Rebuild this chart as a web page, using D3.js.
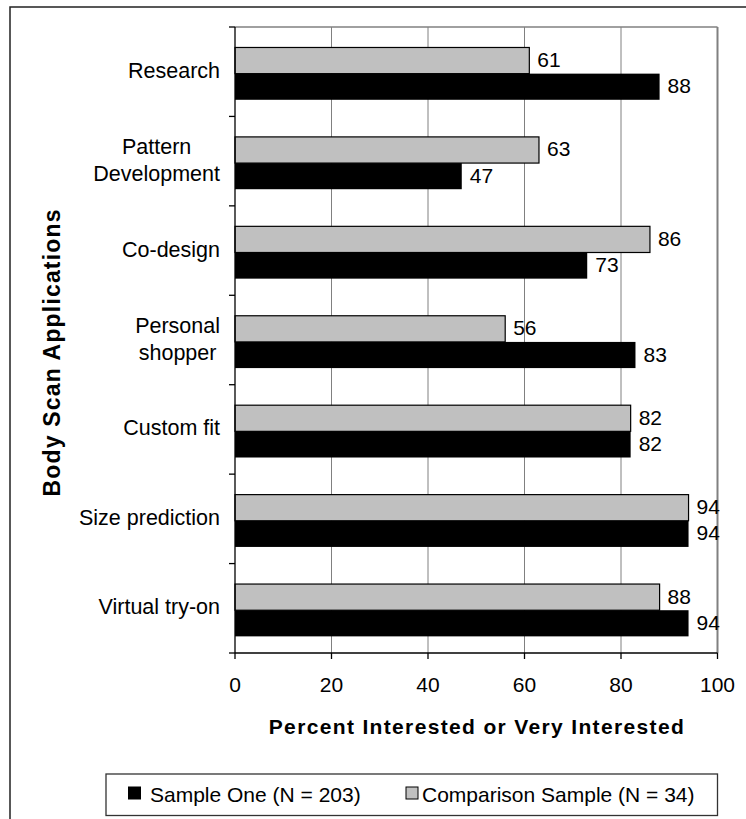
<!DOCTYPE html>
<html><head><meta charset="utf-8">
<script src="https://cdn.jsdelivr.net/npm/d3@7"></script>
<style>
html,body{margin:0;padding:0;background:#fff;}
svg{display:block;font-family:"Liberation Sans",Arial,sans-serif;}
</style></head>
<body>
<svg id="chart" width="746" height="819"></svg>
<script>
const categories = [["Research"],["Pattern","Development"],["Co-design"],["Personal","shopper"],["Custom fit"],["Size prediction"],["Virtual try-on"]];
const comparisonValues = [61,63,86,56,82,94,88];
const sampleOneValues  = [88,47,73,83,82,94,94];
const xTicks = [0,20,40,60,80,100];
const seriesNames = ["Sample One (N = 203)","Comparison Sample (N = 34)"];

const svg = d3.select("#chart");
const L=235, R=717.5, T=27, B=653;
const x = d3.scaleLinear().domain([0,100]).range([L,R]);
const y = d3.scaleBand().domain(d3.range(categories.length)).range([T,B]);
const bw = y.bandwidth();
const sub = d3.scaleBand().domain(["comp","one"]).range([bw*0.229, bw*0.814]);

// outer frame
svg.append("rect").attr("x",10).attr("y",7).attr("width",900).attr("height",900)
  .attr("fill","none").attr("stroke","#222").attr("stroke-width",1.5);

// gridlines
svg.append("g").selectAll("line").data(xTicks.filter(d=>d>0&&d<100)).join("line")
  .attr("x1",d=>x(d)).attr("x2",d=>x(d)).attr("y1",T).attr("y2",B)
  .attr("stroke","#808080").attr("stroke-width",1);
// plot border top/right
svg.append("line").attr("x1",L).attr("x2",R).attr("y1",T).attr("y2",T).attr("stroke","#808080").attr("stroke-width",1.5);
svg.append("line").attr("x1",R).attr("x2",R).attr("y1",T).attr("y2",B).attr("stroke","#808080").attr("stroke-width",2);

// bars
const rows = categories.map((c,i)=>({i, comp:comparisonValues[i], one:sampleOneValues[i]}));
const g = svg.append("g");
g.selectAll("rect.comp").data(rows).join("rect").attr("class","comp")
  .attr("x",x(0)).attr("y",d=>y(d.i)+sub("comp")).attr("width",d=>x(d.comp)-x(0)).attr("height",sub.bandwidth())
  .attr("fill","#c0c0c0").attr("stroke","#000").attr("stroke-width",1.2);
g.selectAll("rect.one").data(rows).join("rect").attr("class","one")
  .attr("x",x(0)).attr("y",d=>y(d.i)+sub("one")).attr("width",d=>x(d.one)-x(0)).attr("height",sub.bandwidth())
  .attr("fill","#000");

// value labels
g.selectAll("text.vc").data(rows).join("text")
  .attr("x",d=>x(d.comp)+8).attr("y",d=>y(d.i)+sub("comp")+sub.bandwidth()/2+6.5)
  .attr("font-size",21).text(d=>d.comp);
g.selectAll("text.vo").data(rows).join("text")
  .attr("x",d=>x(d.one)+8).attr("y",d=>y(d.i)+sub("one")+sub.bandwidth()/2+6.5)
  .attr("font-size",21).text(d=>d.one);

// y axis
svg.append("line").attr("x1",L).attr("x2",L).attr("y1",T).attr("y2",B).attr("stroke","#000").attr("stroke-width",1.3);
const bounds = d3.range(categories.length+1).map(i=> i<categories.length ? y(i) : B);
svg.append("g").selectAll("line").data(bounds).join("line")
  .attr("x1",L-6).attr("x2",L).attr("y1",d=>d).attr("y2",d=>d).attr("stroke","#000").attr("stroke-width",1.3);

// category labels
categories.forEach((lines,i)=>{
  const cy = y(i)+bw/2;
  const grp = svg.append("g");
  const texts = lines.map((s,j)=>grp.append("text").attr("font-size",21.5)
    .attr("y", cy+6+(j-(lines.length-1)/2)*27).text(s));
  const maxW = d3.max(texts,t=>t.node().getComputedTextLength());
  texts.forEach(t=>t.attr("text-anchor","middle").attr("x",220-maxW/2));
});

// x axis
svg.append("line").attr("x1",L).attr("x2",R).attr("y1",B).attr("y2",B).attr("stroke","#000").attr("stroke-width",1.3);
svg.append("g").selectAll("line").data(xTicks).join("line")
  .attr("x1",d=>x(d)).attr("x2",d=>x(d)).attr("y1",B).attr("y2",B+6).attr("stroke","#000").attr("stroke-width",1.3);
svg.append("g").selectAll("text").data(xTicks).join("text")
  .attr("x",d=>x(d)).attr("y",692).attr("text-anchor","middle").attr("font-size",21).text(d=>d);

// axis titles
svg.append("text").attr("x",(L+R)/2).attr("y",734).attr("text-anchor","middle")
  .attr("font-size",21).attr("font-weight","bold")
  .attr("textLength",415).attr("lengthAdjust","spacing")
  .text("Percent Interested or Very Interested");
svg.append("text").attr("transform","translate(60,353) rotate(-90)").attr("text-anchor","middle")
  .attr("font-size",23).attr("font-weight","bold")
  .attr("textLength",287).attr("lengthAdjust","spacing")
  .text("Body Scan Applications");

// legend
svg.append("rect").attr("x",106).attr("y",774).attr("width",R-106).attr("height",41.5)
  .attr("fill","#fff").attr("stroke","#333").attr("stroke-width",1.3);
const legendItems = [
  {name:seriesNames[0], fill:"#000", sx:128.5, tx:150},
  {name:seriesNames[1], fill:"#c0c0c0", sx:406, tx:422}
];
legendItems.forEach(it=>{
  svg.append("rect").attr("x",it.sx).attr("y",787).attr("width",12).attr("height",12)
    .attr("fill",it.fill).attr("stroke","#000").attr("stroke-width",1);
  svg.append("text").attr("x",it.tx).attr("y",801.5).attr("font-size",21).text(it.name);
});
</script>
</body></html>
